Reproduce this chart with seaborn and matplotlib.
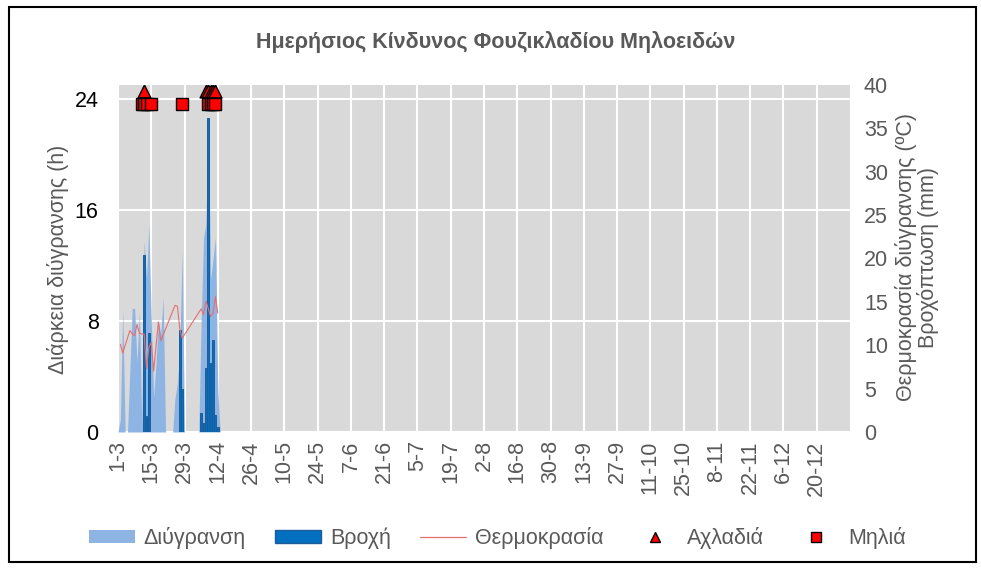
import matplotlib
matplotlib.use("Agg")
import matplotlib.pyplot as plt
from matplotlib.patches import Patch, Rectangle
from matplotlib.lines import Line2D
import seaborn as sns
import pandas as pd
import numpy as np

# ---------------- data ----------------
tick_labels = ["1-3", "15-3", "29-3", "12-4", "26-4", "10-5", "24-5", "7-6", "21-6",
               "5-7", "19-7", "2-8", "16-8", "30-8", "13-9", "27-9", "11-10", "25-10",
               "8-11", "22-11", "6-12", "20-12"]

# day index (0 = 1 March) of each daily value
wet_days = list(range(0, 44))
wet_hours = [0, 0.9, 8.8, 0, 0, 4.5, 8.9, 8.9, 5.0, 8.7,
             0.5, 13.8, 11.0, 15.0, 8.0, 2.5, 5.0, 8.0, 7.0, 9.7,
             0, 0, 0, 0, 2.5, 3.5, 6.0, 13.0, 0, 0,
             0, 0, 0, 0, 0, 8.0, 14.0, 15.0, 22.6, 11.0,
             12.5, 14.0, 3.0, 0]

rain_days = [11, 12, 13, 26, 27, 35, 36, 37, 38, 39, 40, 41, 42]
rain_mm = [20.4, 1.8, 11.4, 11.8, 5.0, 2.2, 1.0, 7.4, 36.2, 8.0, 10.6, 2.0, 0.6]

temp_days = [1, 2, 5, 6, 7, 8, 9, 10, 11, 12, 13, 14, 15, 16, 17, 18,
             24, 25, 26, 27, 35, 36, 37, 38, 39, 40, 41, 42]
temp_c = [10.1, 9.1, 11.7, 11.3, 11.1, 12.4, 11.4, 11.3, 11.3, 7.3, 9.8, 10.3, 7.0, 9.9, 12.7, 10.5,
          14.6, 14.5, 11.9, 10.8, 14.2, 13.5, 15.1, 14.2, 13.3, 13.7, 15.6, 13.7]

pear_days = [11, 37, 38, 39, 40, 41]      # Αχλαδιά
pear_level = [39.3] * len(pear_days)
apple_days = [10, 11, 12, 14, 27, 38, 39, 40, 41]   # Μηλιά
apple_level = [37.8] * len(apple_days)

# ---------------- style ----------------
sns.set_style("white")
plt.rcParams['font.family'] = ['Liberation Sans', 'DejaVu Sans']
TXT = '#595959'
AREA = '#8DB4E2'
BAR = '#0070C0'
LINE = '#E56F6F'
FS = 15.5

fig = plt.figure(figsize=(9.81, 5.69), dpi=100)
ax = fig.add_axes([118/981, 1-432/569, (850-118)/981, (432-85)/569])
ax.set_facecolor('#D9D9D9')

# area (left axis, hours)
ax.fill_between(wet_days, wet_hours, 0, color=AREA, linewidth=0, zorder=2)
ax.set_ylim(0, 25)
ax.set_yticks([0, 8, 16, 24])
ax.set_xlim(0, 308)
ax.set_xticks(np.arange(0, 308, 14))
ax.set_xticklabels(tick_labels, rotation=90)
ax.grid(True, color='white', linewidth=1.5, zorder=1)
ax.set_axisbelow(True)
for s in ax.spines.values():
    s.set_visible(False)
ax.tick_params(axis='x', length=0, labelsize=FS, labelcolor=TXT, pad=6)
ax.tick_params(axis='y', length=0, labelsize=FS, labelcolor='black', pad=14)

# right axis: rain bars, temperature line, markers
ax2 = ax.twinx()
ax2.set_ylim(0, 40)
ax2.set_yticks(np.arange(0, 41, 5))
for s in ax2.spines.values():
    s.set_visible(False)
ax2.tick_params(axis='y', length=0, labelsize=FS, labelcolor=TXT, pad=10)
ax2.bar(rain_days, rain_mm, width=0.8, color=BAR, edgecolor='#1F5C99', linewidth=0.7, zorder=3)

df_t = pd.DataFrame({'day': temp_days, 'temp': temp_c})
sns.lineplot(data=df_t, x='day', y='temp', ax=ax2, color=LINE, linewidth=0.8, zorder=4,
             estimator=None, sort=True)

df_p = pd.DataFrame({'day': pear_days, 'lvl': pear_level})
df_a = pd.DataFrame({'day': apple_days, 'lvl': apple_level})
sns.scatterplot(data=df_p, x='day', y='lvl', ax=ax2, marker='^', s=85, color='#FF0000',
                edgecolor='black', linewidth=1.0, zorder=5)
sns.scatterplot(data=df_a, x='day', y='lvl', ax=ax2, marker='s', s=75, color='#FF0000',
                edgecolor='black', linewidth=1.0, zorder=5)
ax2.set_xlabel('')
ax2.set_ylabel('')
ax.set_xlabel('')
ax2.set_xlim(0, 308)

# texts
fig.text(0.505, 1-42/569, 'Ημερήσιος Κίνδυνος Φουζικλαδίου Μηλοειδών', ha='center', va='center',
         fontsize=FS, fontweight='bold', color=TXT)
fig.text(58/981, 1-259/569, 'Διάρκεια διύγρανσης (h)', rotation=90, ha='center', va='center',
         fontsize=FS, color=TXT)
fig.text(917/981, 1-257/569, 'Θερμοκρασία διύγρανσης (ºC)\nΒροχόπτωση (mm)', rotation=90,
         ha='center', va='center', fontsize=FS, color=TXT, linespacing=1.05, multialignment='center')

handles = [
    Patch(facecolor=AREA, edgecolor='none'),
    Patch(facecolor=BAR, edgecolor='#1F5C99'),
    Line2D([], [], color=LINE, linewidth=0.9),
    Line2D([], [], marker='^', linestyle='none', markerfacecolor='#FF0000', markeredgecolor='black', markersize=6.5),
    Line2D([], [], marker='s', linestyle='none', markerfacecolor='#FF0000', markeredgecolor='black', markersize=6.5),
]
labels = ['Διύγρανση', 'Βροχή', 'Θερμοκρασία', 'Αχλαδιά', 'Μηλιά']
leg = fig.legend(handles, labels, loc='center', bbox_to_anchor=(0.507, 1-538/569), ncol=5,
                 frameon=False, fontsize=FS, handlelength=2.15, handleheight=0.55,
                 columnspacing=1.35, handletextpad=0.4)
for t in leg.get_texts():
    t.set_color(TXT)

fig.patches.append(Rectangle((9/981, 1-562/569), (976-9)/981, (562-7)/569, transform=fig.transFigure,
                             fill=False, edgecolor='black', linewidth=1.5))

fig.savefig('out.png', dpi=100)
